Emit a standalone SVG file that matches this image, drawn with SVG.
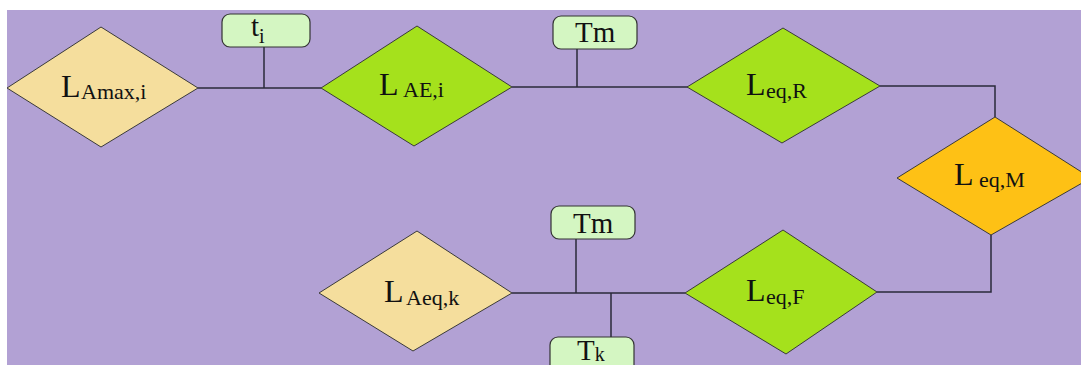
<svg xmlns="http://www.w3.org/2000/svg" width="1081" height="365" viewBox="0 0 1081 365">
<style>
.bg{fill:#B2A1D4}
.d{stroke:#3a3a3a;stroke-width:1}
.y{fill:#F5DE9D}
.g{fill:#A5E11C}
.o{fill:#FEC115}
.box{fill:#D4F6C2;stroke:#333;stroke-width:1.2}
.c{fill:none;stroke:#2a2a3a;stroke-width:1.5}
text{font-family:"Liberation Serif","Times New Roman",serif;fill:#111}
.L{font-size:32px}
.s{font-size:22px}
.b{font-size:29px}
</style>
<rect x="0" y="0" width="1081" height="365" fill="#ffffff"/>
<rect class="bg" x="7" y="10" width="1074" height="355"/>
<g id="connectors">
<polyline class="c" points="198,88 321,88"/>
<polyline class="c" points="264,47 264,88"/>
<polyline class="c" points="512,87 688,87"/>
<polyline class="c" points="577,49 577,87"/>
<polyline class="c" points="880,86 995,86 995,117"/>
<polyline class="c" points="991,235 991,292 877,292"/>
<polyline class="c" points="512,293 685,293"/>
<polyline class="c" points="576,239 576,293"/>
<polyline class="c" points="611,293 611,337"/>
</g>
<g id="LAmax">
<polygon class="d y" points="7,88 101,27 198,88 101,147"/>
<text x="61" y="97"><tspan class="L">L</tspan><tspan class="s" x="81" y="99">Amax,i</tspan></text>
</g>
<g id="ti">
<rect class="box" x="222" y="14" width="88" height="33" rx="8"/>
<text x="251" y="36"><tspan class="b">t</tspan><tspan font-size="20px" y="43">i</tspan></text>
</g>
<g id="LAE">
<polygon class="d g" points="321,88 417,26 512,87 414,146"/>
<text x="379" y="95"><tspan class="L">L</tspan><tspan class="s" x="403" y="97">AE,i</tspan></text>
</g>
<g id="Tm1">
<rect class="box" x="553" y="16" width="84" height="33" rx="8"/>
<text x="575" y="42"><tspan class="b">T</tspan><tspan class="b">m</tspan></text>
</g>
<g id="LeqR">
<polygon class="d g" points="687,87 783,28 880,86 782,143"/>
<text x="746" y="95"><tspan class="L">L</tspan><tspan class="s" x="766" y="98">eq,R</tspan></text>
</g>
<g id="LeqM">
<polygon class="d o" points="897,178 995,117 1091,178 991,235"/>
<text x="954" y="185"><tspan class="L">L</tspan><tspan class="s" x="979" y="187">eq,M</tspan></text>
</g>
<g id="LeqF">
<polygon class="d g" points="685,293 783,230 877,292 786,354"/>
<text x="746" y="301"><tspan class="L">L</tspan><tspan class="s" x="766" y="304">eq,F</tspan></text>
</g>
<g id="LAeqk">
<polygon class="d y" points="319,293 417,231 512,293 413,351"/>
<text x="384" y="302"><tspan class="L">L</tspan><tspan class="s" x="406" y="305">Aeq,k</tspan></text>
</g>
<g id="Tm2">
<rect class="box" x="551" y="206" width="84" height="33" rx="8"/>
<text x="573" y="233"><tspan class="b">T</tspan><tspan class="b">m</tspan></text>
</g>
<g id="Tk">
<rect class="box" x="550" y="337" width="84" height="40" rx="8"/>
<text x="577" y="360"><tspan class="b">T</tspan><tspan font-size="20px" y="361">k</tspan></text>
</g>
</svg>
